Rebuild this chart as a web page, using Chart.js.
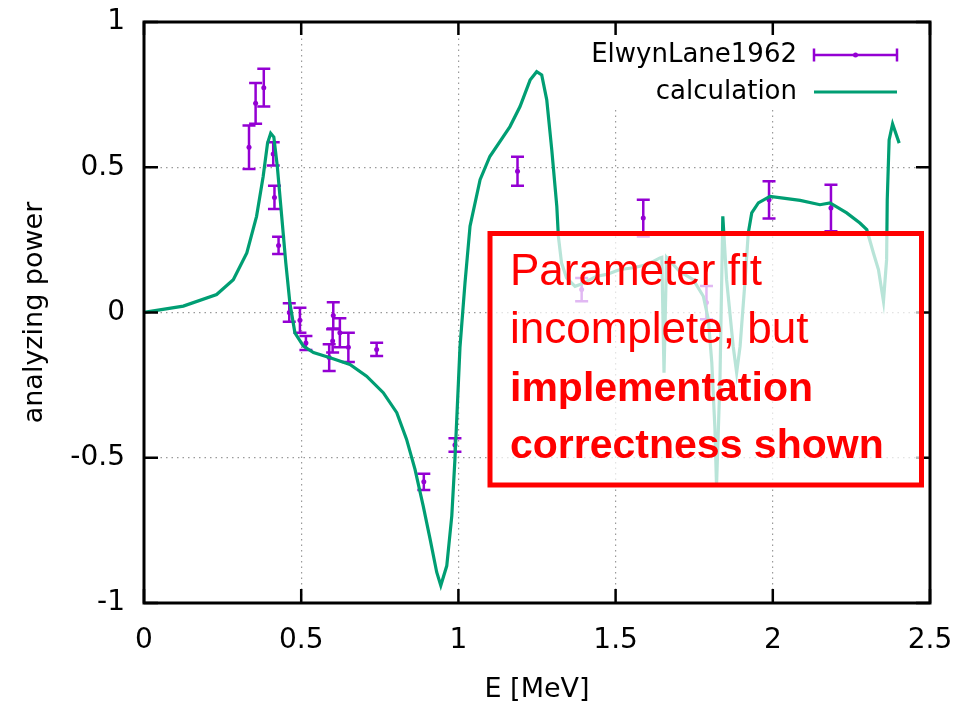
<!DOCTYPE html>
<html lang="en">
<head>
  <meta charset="UTF-8" />
  <title>analyzing power vs E</title>
  <script src="https://cdn.jsdelivr.net/npm/chart.js"></script>
  <style>
    html, body { margin: 0; padding: 0; background: #fff; }
    canvas { display: block; }
  </style>
</head>
<body>
  <canvas id="apChart" width="962" height="713"></canvas>

  <script>
    // ElwynLane1962 measurements (E in MeV, analyzing power, error)
    const expE   = [0.334, 0.355, 0.381, 0.411, 0.415, 0.428, 0.462, 0.496, 0.515, 0.589, 0.600, 0.602, 0.623, 0.650, 0.740, 0.890, 0.989, 1.188, 1.392, 1.588, 1.789, 1.988, 2.185];
    const expA   = [0.569, 0.720, 0.774, 0.546, 0.396, 0.231, 0.000, -0.027, -0.105, -0.155, -0.098, -0.010, -0.070, -0.120, -0.127, -0.583, -0.456, 0.486, 0.079, 0.325, 0.034, 0.388, 0.360];
    const expErr = [0.075, 0.070, 0.065, 0.040, 0.040, 0.030, 0.032, 0.043, 0.024, 0.046, 0.040, 0.045, 0.050, 0.050, 0.023, 0.028, 0.023, 0.050, 0.040, 0.063, 0.057, 0.064, 0.080];

    // calculation curve
    const calcE = [0, 0.01, 0.125, 0.231, 0.284, 0.327, 0.358, 0.379, 0.393, 0.403, 0.413, 0.424, 0.438, 0.451, 0.464, 0.480, 0.507, 0.539, 0.592, 0.655, 0.708, 0.761, 0.804, 0.835, 0.862, 0.888, 0.910, 0.931, 0.944, 0.963, 0.979, 0.989, 1.000, 1.005, 1.021, 1.037, 1.069, 1.100, 1.164, 1.196, 1.228, 1.249, 1.265, 1.281, 1.297, 1.313, 1.318, 1.328, 1.344, 1.371, 1.387, 1.440, 1.472, 1.514, 1.557, 1.600, 1.641, 1.647, 1.654, 1.662, 1.704, 1.747, 1.779, 1.795, 1.806, 1.816, 1.821, 1.832, 1.841, 1.853, 1.874, 1.885, 1.896, 1.912, 1.922, 1.933, 1.954, 1.991, 2.033, 2.087, 2.150, 2.182, 2.235, 2.277, 2.299, 2.320, 2.336, 2.352, 2.362, 2.364, 2.370, 2.381, 2.402];
    const calcA = [0, 0.002, 0.022, 0.062, 0.113, 0.205, 0.331, 0.468, 0.583, 0.617, 0.604, 0.503, 0.331, 0.171, 0.033, -0.070, -0.116, -0.138, -0.156, -0.179, -0.219, -0.276, -0.345, -0.436, -0.540, -0.666, -0.780, -0.894, -0.940, -0.872, -0.700, -0.505, -0.242, -0.120, 0.102, 0.297, 0.457, 0.537, 0.640, 0.709, 0.800, 0.829, 0.818, 0.732, 0.560, 0.365, 0.262, 0.171, 0.119, 0.090, 0.096, 0.125, 0.131, 0.148, 0.154, 0.165, 0.188, 0.190, -0.207, 0.190, 0.141, 0.113, 0.056, -0.024, -0.173, -0.402, -0.597, -0.230, 0.331, 0.113, -0.116, -0.207, -0.116, 0.113, 0.274, 0.343, 0.377, 0.400, 0.394, 0.386, 0.371, 0.377, 0.343, 0.308, 0.285, 0.205, 0.148, 0.039, 0.182, 0.388, 0.594, 0.649, 0.583];

    const xTicks = [0, 0.5, 1, 1.5, 2, 2.5];
    const yTicks = [-1, -0.5, 0, 0.5, 1];

    const noteLines = [
      { text: 'Parameter fit', bold: false },
      { text: 'incomplete, but', bold: false },
      { text: 'implementation', bold: true },
      { text: 'correctness shown', bold: true }
    ];

    const PURPLE = '#9400d3';
    const GREEN = '#009e73';
    const FONT = "'DejaVu Sans', Verdana, sans-serif";

    function drawErrorBar(ctx, x, yLo, yHi, cap) {
      ctx.beginPath();
      ctx.moveTo(x, yLo); ctx.lineTo(x, yHi);
      ctx.moveTo(x - cap, yLo); ctx.lineTo(x + cap, yLo);
      ctx.moveTo(x - cap, yHi); ctx.lineTo(x + cap, yHi);
      ctx.stroke();
    }

    const decor = {
      id: 'decor',
      beforeDatasetsDraw(chart) {
        const { ctx, chartArea: a, scales: { x, y } } = chart;
        ctx.save();
        ctx.beginPath();
        ctx.rect(a.left, a.top, a.right - a.left, a.bottom - a.top);
        ctx.clip();
        ctx.strokeStyle = PURPLE;
        ctx.lineWidth = 2.5;
        expE.forEach((e, i) => {
          drawErrorBar(ctx, x.getPixelForValue(e),
            y.getPixelForValue(expA[i] - expErr[i]),
            y.getPixelForValue(expA[i] + expErr[i]), 6.5);
        });
        ctx.restore();
      },
      afterDatasetsDraw(chart) {
        const { ctx, chartArea: a, scales: { x, y } } = chart;
        const ds = chart.data.datasets;
        ctx.save();

        // key, opaque like gnuplot's
        ctx.fillStyle = '#fff';
        ctx.fillRect(578, a.top + 2, a.right - 580, 86);
        ctx.font = '26px ' + FONT;
        ctx.fillStyle = '#000';
        ctx.textAlign = 'right';
        ctx.textBaseline = 'middle';
        ctx.fillText(ds[0].label, 797, 55);
        ctx.fillText(ds[1].label, 797, 92);
        ctx.strokeStyle = PURPLE;
        ctx.lineWidth = 2.5;
        ctx.beginPath();
        ctx.moveTo(814, 55); ctx.lineTo(897, 55);
        ctx.moveTo(814, 48.5); ctx.lineTo(814, 61.5);
        ctx.moveTo(897, 48.5); ctx.lineTo(897, 61.5);
        ctx.stroke();
        ctx.fillStyle = PURPLE;
        ctx.beginPath(); ctx.arc(855.5, 55, 2.5, 0, Math.PI * 2); ctx.fill();
        ctx.strokeStyle = GREEN;
        ctx.lineWidth = 3;
        ctx.beginPath(); ctx.moveTo(814, 92); ctx.lineTo(897, 92); ctx.stroke();

        // inward ticks on all four sides
        ctx.strokeStyle = '#000';
        ctx.lineWidth = 2.5;
        ctx.beginPath();
        xTicks.forEach(v => {
          const px = x.getPixelForValue(v);
          ctx.moveTo(px, a.bottom); ctx.lineTo(px, a.bottom - 14);
          ctx.moveTo(px, a.top); ctx.lineTo(px, a.top + 13);
        });
        yTicks.forEach(v => {
          const py = y.getPixelForValue(v);
          ctx.moveTo(a.left, py); ctx.lineTo(a.left + 14, py);
          ctx.moveTo(a.right, py); ctx.lineTo(a.right - 14, py);
        });
        ctx.stroke();

        // frame
        ctx.lineWidth = 3;
        ctx.strokeRect(a.left, a.top, a.right - a.left, a.bottom - a.top);
        ctx.restore();
      },
      afterDraw(chart) {
        const ctx = chart.ctx;
        ctx.save();
        ctx.fillStyle = 'rgba(255,255,255,0.72)';
        ctx.fillRect(490, 233.5, 431.5, 251.5);
        ctx.strokeStyle = '#ff0000';
        ctx.lineWidth = 5;
        ctx.strokeRect(490, 233.5, 431.5, 251.5);
        ctx.fillStyle = '#ff0000';
        ctx.textAlign = 'left';
        ctx.textBaseline = 'alphabetic';
        const baselines = [285, 343, 401, 458];
        noteLines.forEach((ln, i) => {
          ctx.font = (ln.bold ? 'bold 41px ' : '44px ') + "'Liberation Sans', Arial, sans-serif";
          ctx.fillText(ln.text, 510, baselines[i]);
        });
        ctx.restore();
      }
    };

    new Chart(document.getElementById('apChart'), {
      type: 'scatter',
      data: {
        datasets: [
          {
            label: 'ElwynLane1962',
            data: expE.map((e, i) => ({ x: e, y: expA[i] })),
            showLine: false,
            pointRadius: 2.5,
            pointBackgroundColor: PURPLE,
            pointBorderColor: PURPLE,
            pointBorderWidth: 0,
            order: 2
          },
          {
            label: 'calculation',
            data: calcE.map((e, i) => ({ x: e, y: calcA[i] })),
            showLine: true,
            borderColor: GREEN,
            borderWidth: 3.2,
            pointRadius: 0,
            tension: 0,
            order: 1
          }
        ]
      },
      options: {
        responsive: false,
        animation: false,
        layout: { padding: { top: 22, right: 32, left: 0, bottom: 0 } },
        plugins: {
          legend: { display: false },
          tooltip: { enabled: false }
        },
        scales: {
          x: {
            type: 'linear',
            min: 0, max: 2.5,
            afterBuildTicks: s => { s.ticks = xTicks.map(v => ({ value: v })); },
            afterFit: s => { s.height = 110; s.paddingLeft = 0; s.paddingRight = 0; },
            grid: { color: '#9a9a9a', lineWidth: 1.2, drawTicks: false },
            border: { display: false, dash: [1.5, 4] },
            ticks: {
              callback: v => String(v),
              color: '#000',
              padding: 21,
              font: { family: FONT, size: 28 }
            },
            title: {
              display: true,
              text: 'E [MeV]',
              color: '#000',
              padding: { top: 0, bottom: 7 },
              font: { family: FONT, size: 27 }
            }
          },
          y: {
            type: 'linear',
            min: -1, max: 1,
            afterBuildTicks: s => { s.ticks = yTicks.map(v => ({ value: v })); },
            afterFit: s => { s.width = 144; s.paddingTop = 0; s.paddingBottom = 0; },
            grid: { color: '#9a9a9a', lineWidth: 1.2, drawTicks: false },
            border: { display: false, dash: [1.5, 4] },
            ticks: {
              callback: v => String(v),
              color: '#000',
              padding: 19,
              font: { family: FONT, size: 28 }
            },
            title: {
              display: true,
              text: 'analyzing power',
              color: '#000',
              padding: { top: 19, bottom: 0 },
              font: { family: FONT, size: 27 }
            }
          }
        }
      },
      plugins: [decor]
    });
  </script>
</body>
</html>
